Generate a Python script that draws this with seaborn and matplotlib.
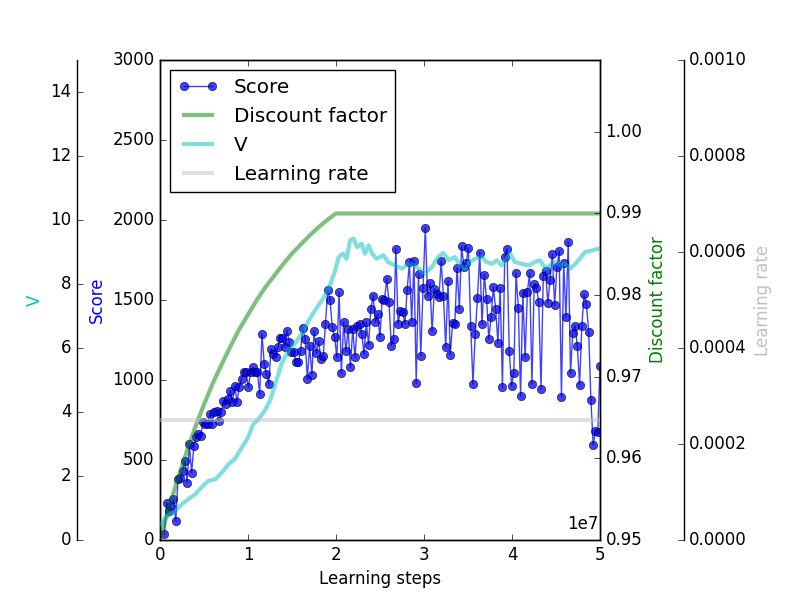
import numpy as np
import matplotlib
matplotlib.use("Agg")
import matplotlib.pyplot as plt
import seaborn as sns
from matplotlib.ticker import FormatStrFormatter, MultipleLocator

plt.style.use("classic")

# ---------------- data ----------------
scores = [36, 234, 182, 213, 255, 119, 380, 390, 432, 495, 359, 599, 421, 589, 641, 662, 651, 735, 725, 725,
          787, 725, 797, 808, 745, 797, 871, 850, 881, 933, 860, 965, 860, 954, 1006, 1048, 1048, 954, 1048, 1079,
          1048, 1048, 912, 1288, 1100,
          1038, 975, 1194, 1163, 1146, 1204, 1263, 1263, 1204, 1309, 1236, 1173, 1173, 1110, 1110, 1179, 1326, 1257,
          1006, 1215, 1033, 1309, 1167, 1242, 1132, 1152, 1351, 1564, 1501, 1330, 1271, 1142, 1547, 1042, 1361, 1179,
          1320, 1079, 1320, 1142, 1340, 1351, 1288, 1163, 1361, 1221, 1445, 1528,
          1361, 1414, 1267, 1508, 1497, 1633, 1486, 1215, 1257, 1821, 1351, 1430, 1424, 1351, 1564, 1737, 1361, 1743,
          979, 1664, 1152, 1576, 1952, 1522, 1605, 1305, 1570, 1539, 1518, 1743, 1522, 1204, 1618, 1159, 1355, 1351,
          1702, 1445, 1835, 1705, 1730, 1827, 1340, 975, 1288, 1514, 1796, 1347, 1658, 1508, 1257,
          1392, 1580, 1445, 1232, 1576, 954, 1768, 1821, 1184, 965, 1044, 1670, 1451, 898, 1545, 1142, 1553, 1668,
          975, 1601, 1576, 1486, 944, 1647, 1680, 1482, 1628, 1785, 1466, 1705, 1806, 896, 1733, 1392, 1862, 1044,
          1294, 1340, 1215, 971, 1340, 1535, 1476, 1303, 875, 595, 683, 672, 1085]
score_first_step = 0.05e7
score_last_step = 5.0e7

v_steps_e7 = [0.01, 0.06, 0.17, 0.25, 0.32, 0.40, 0.47, 0.55, 0.63, 0.70, 0.78, 0.85, 0.93, 1.00, 1.06, 1.12,
              1.19, 1.25, 1.31, 1.38, 1.46, 1.53, 1.61, 1.69, 1.76, 1.84, 1.91, 1.99, 2.03, 2.08, 2.12, 2.16,
              2.20, 2.24, 2.29, 2.33, 2.37, 2.41, 2.46, 2.54, 2.59, 2.67, 2.75, 2.80, 2.86, 2.94, 3.01, 3.09,
              3.16, 3.22, 3.28, 3.35, 3.41, 3.47, 3.52, 3.58, 3.66, 3.71, 3.77, 3.83, 3.88, 3.98, 4.03, 4.11,
              4.19, 4.26, 4.32, 4.38, 4.43, 4.49, 4.55, 4.60, 4.66, 4.72, 4.77, 4.83, 4.91, 4.98]
v_values = [0.49, 0.70, 0.90, 1.12, 1.27, 1.43, 1.64, 1.85, 1.90, 2.10, 2.37, 2.53, 2.89, 3.20, 3.62, 3.78,
            4.04, 4.35, 4.88, 5.50, 5.92, 6.13, 6.44, 6.86, 7.17, 7.49, 7.80, 8.42, 8.84, 8.95, 8.79, 9.36,
            9.42, 9.15, 9.26, 8.95, 9.21, 8.95, 8.79, 8.90, 8.69, 8.58, 8.48, 8.58, 8.63, 8.48, 8.32, 8.53,
            8.84, 8.97, 8.74, 8.84, 8.58, 8.48, 8.69, 8.79, 8.84, 8.69, 8.63, 8.74, 8.58, 8.95, 8.69, 8.63,
            8.58, 8.69, 8.74, 8.48, 8.58, 8.69, 8.58, 8.63, 8.48, 8.63, 8.79, 9.00, 9.05, 9.10]

gamma_steps_e7 = [0.0, 0.05, 0.1, 0.2, 0.3, 0.4, 0.5, 0.6, 0.7, 0.8, 0.9, 1.0, 1.1, 1.2, 1.3, 1.4,
                  1.5, 1.6, 1.7, 1.8, 1.9, 2.0, 5.0]
gamma_values = [0.9500, 0.9520, 0.9539, 0.9574, 0.9607, 0.9638, 0.9666, 0.9692, 0.9715, 0.9737, 0.9758,
                0.9776, 0.9794, 0.9810, 0.9824, 0.9838, 0.9851, 0.9862, 0.9873, 0.9883, 0.9892, 0.9900, 0.9900]

lr_steps_e7 = [0.0, 5.0]
lr_values = [0.00025, 0.00025]

labels = ["Score", "Discount factor", "V", "Learning rate"]

# ---------------- figure ----------------
score_steps = np.linspace(score_first_step, score_last_step, len(scores))
v_steps = np.array(v_steps_e7) * 1e7
gamma_steps = np.array(gamma_steps_e7) * 1e7
lr_steps = np.array(lr_steps_e7) * 1e7

fig = plt.figure(figsize=(8, 6), dpi=100, facecolor="white")
ax = fig.add_subplot(111)
fig.subplots_adjust(left=0.2, right=0.75, bottom=0.1, top=0.9)

sns.lineplot(x=score_steps, y=scores, ax=ax, color="b", marker="o", markersize=6,
             markeredgecolor="k", markeredgewidth=0.5, alpha=0.75, lw=1,
             label=labels[0], legend=False, sort=False)
h_score = ax.lines[-1]
ax.set_xlim(0, 5e7)
ax.set_ylim(0, 3000)
ax.yaxis.set_major_locator(MultipleLocator(500))
ax.set_xlabel("Learning steps")
ax.set_ylabel("Score", color="b")
ax.xaxis.get_offset_text().set_visible(False)
ax.text(0.997, 0.015, "1e7", transform=ax.transAxes, ha="right", va="bottom", fontsize=12)

# discount factor
ax_g = ax.twinx()
sns.lineplot(x=gamma_steps, y=gamma_values, ax=ax_g, color="g", alpha=0.5, lw=3,
             label=labels[1], legend=False)
h_gamma = ax_g.lines[-1]
ax_g.set_ylim(0.95, 1.0088)
ax_g.yaxis.set_major_locator(MultipleLocator(0.01))
ax_g.yaxis.set_major_formatter(FormatStrFormatter("%.2f"))
ax_g.set_ylabel("Discount factor", color="g")

# V
ax_v = ax.twinx()
sns.lineplot(x=v_steps, y=v_values, ax=ax_v, color="c", alpha=0.5, lw=3,
             label=labels[2], legend=False)
h_v = ax_v.lines[-1]
ax_v.set_ylim(0, 15)
ax_v.yaxis.set_major_locator(MultipleLocator(2))
for s in ["right", "top", "bottom"]:
    ax_v.spines[s].set_visible(False)
ax_v.spines["left"].set_visible(True)
ax_v.spines["left"].set_position(("axes", -0.188))
ax_v.yaxis.set_label_position("left")
ax_v.yaxis.set_ticks_position("left")
ax_v.set_ylabel("V", color="c")

# learning rate
ax_lr = ax.twinx()
sns.lineplot(x=lr_steps, y=lr_values, ax=ax_lr, color="silver", alpha=0.5, lw=3,
             label=labels[3], legend=False)
h_lr = ax_lr.lines[-1]
ax_lr.set_ylim(0, 0.001)
ax_lr.yaxis.set_major_locator(MultipleLocator(0.0002))
ax_lr.yaxis.set_major_formatter(FormatStrFormatter("%.4f"))
for s in ["left", "top", "bottom"]:
    ax_lr.spines[s].set_visible(False)
ax_lr.spines["right"].set_position(("axes", 1.19))
ax_lr.set_ylabel("Learning rate", color="silver")

for a in (ax_g, ax_v, ax_lr):
    a.set_xlim(0, 5e7)

ax_lr.legend([h_score, h_gamma, h_v, h_lr], labels, loc="upper left", numpoints=2,
             fontsize="large", fancybox=False)

fig.savefig("out.png", dpi=100, facecolor="white")
